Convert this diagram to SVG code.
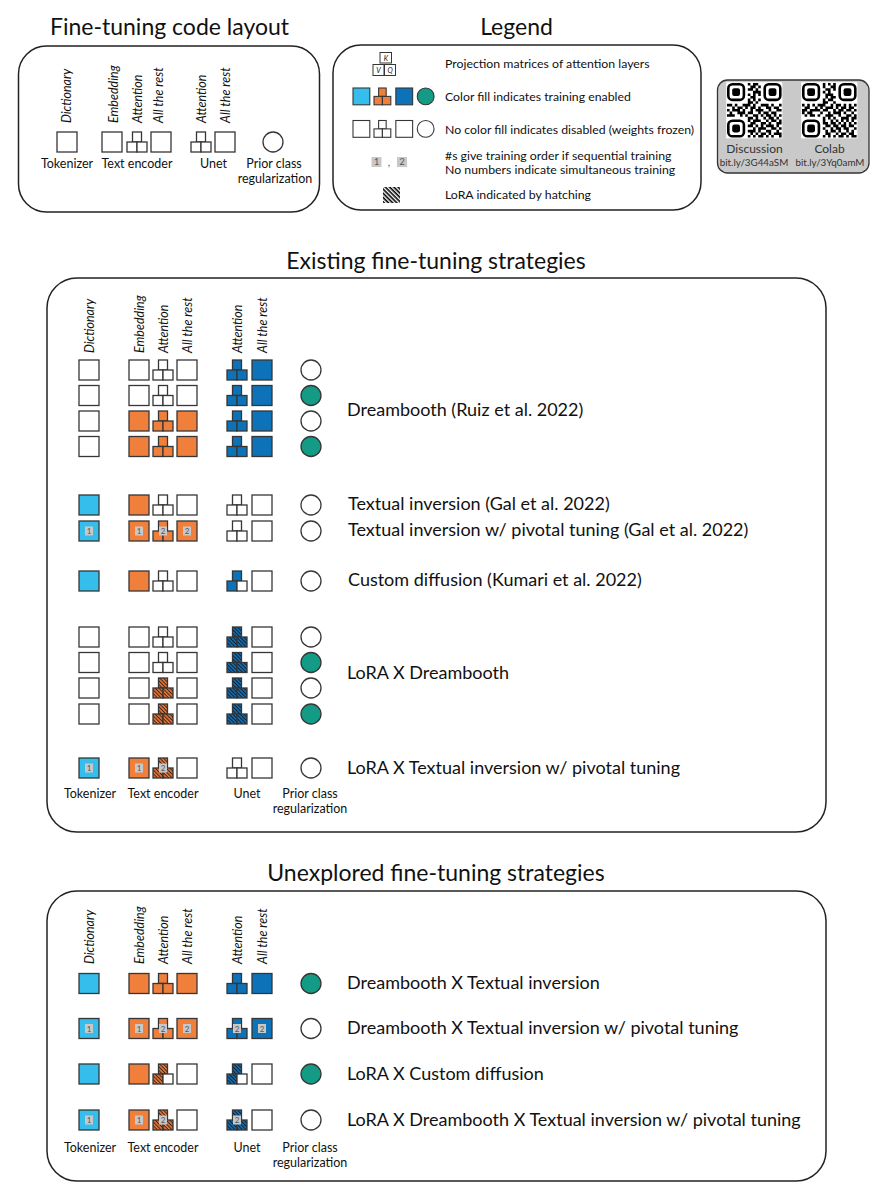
<svg xmlns="http://www.w3.org/2000/svg" xmlns:xlink="http://www.w3.org/1999/xlink" width="886" height="1200" viewBox="0 0 886 1200">
<style>
.s{stroke:#363636;stroke-width:1.3}
.w{fill:#fff}.lb{fill:#35bdec}.or{fill:#f07f3c}.db{fill:#0d72b8}.tl{fill:#139b86}
.ho{fill:url(#hO)}.hb{fill:url(#hB)}
.panel{fill:#fff;stroke:#222;stroke-width:1.5}
text{font-family:Lato,"Noto Sans",sans-serif;fill:#111}
.title{font-size:23px;text-anchor:middle}
.lab{font-size:18px}
.sm{font-size:12.5px;text-anchor:middle}
.lg{font-size:12.3px}
.rot{font-size:12.5px;font-style:italic}
.bg{fill:#c8c8c8}
.bt{font-size:8px;fill:#555;text-anchor:middle}
.qt{font-size:12px;fill:#333;text-anchor:middle}
.qu{font-size:9.8px;fill:#333;text-anchor:middle}
</style>
<defs>
<pattern id="hO" patternUnits="userSpaceOnUse" width="2.6" height="2.6" patternTransform="rotate(45)"><rect width="2.6" height="2.6" fill="#e9783a"/><rect width="2.6" height="1" fill="#3a2418"/></pattern>
<pattern id="hB" patternUnits="userSpaceOnUse" width="2.6" height="2.6" patternTransform="rotate(45)"><rect width="2.6" height="2.6" fill="#1a6fae"/><rect width="2.6" height="1" fill="#0b1e33"/></pattern>
<pattern id="hK" patternUnits="userSpaceOnUse" width="3" height="3" patternTransform="rotate(45)"><rect width="3" height="3" fill="#fff"/><rect width="3" height="1.6" fill="#000"/></pattern>
<rect id="sq" width="20" height="20"/>
<rect id="ak" x="5.5" width="9" height="10"/>
<rect id="av" y="10" width="10" height="10"/>
<rect id="aq" x="10" y="10" width="10" height="10"/>
<g id="att"><use href="#ak"/><use href="#av"/><use href="#aq"/></g>
<circle id="ci" r="10"/>
<path id="qrd" fill="#000" d="M8 0h1v1h-1z M10 0h2v1h-2z M9 1h2v1h-2z M12 1h1v1h-1z M8 2h2v1h-2z M11 2h1v1h-1z M10 3h3v1h-3z M8 4h1v1h-1z M10 4h1v1h-1z M12 4h1v1h-1z M9 5h2v1h-2z M8 6h1v1h-1z M10 6h1v1h-1z M12 6h1v1h-1z M8 7h2v1h-2z M11 7h1v1h-1z M0 8h2v1h-2z M3 8h1v1h-1z M6 8h3v1h-3z M10 8h1v1h-1z M13 8h3v1h-3z M17 8h1v1h-1z M20 8h1v1h-1z M2 9h1v1h-1z M4 9h2v1h-2z M7 9h1v1h-1z M9 9h2v1h-2z M12 9h1v1h-1z M15 9h2v1h-2z M18 9h2v1h-2z M0 10h1v1h-1z M2 10h3v1h-3z M6 10h1v1h-1z M9 10h1v1h-1z M11 10h3v1h-3z M16 10h1v1h-1z M19 10h2v1h-2z M1 11h1v1h-1z M4 11h3v1h-3z M8 11h2v1h-2z M12 11h1v1h-1z M14 11h2v1h-2z M17 11h2v1h-2z M0 12h3v1h-3z M5 12h1v1h-1z M7 12h1v1h-1z M10 12h2v1h-2z M13 12h1v1h-1z M15 12h2v1h-2z M18 12h1v1h-1z M20 12h1v1h-1z M8 13h2v1h-2z M11 13h1v1h-1z M14 13h1v1h-1z M16 13h2v1h-2z M19 13h1v1h-1z M8 14h1v1h-1z M10 14h3v1h-3z M15 14h1v1h-1z M17 14h2v1h-2z M20 14h1v1h-1z M9 15h2v1h-2z M13 15h2v1h-2z M16 15h1v1h-1z M19 15h2v1h-2z M8 16h2v1h-2z M11 16h1v1h-1z M13 16h1v1h-1z M15 16h3v1h-3z M19 16h1v1h-1z M10 17h1v1h-1z M12 17h3v1h-3z M17 17h2v1h-2z M20 17h1v1h-1z M8 18h3v1h-3z M12 18h1v1h-1z M15 18h2v1h-2z M19 18h1v1h-1z M9 19h1v1h-1z M11 19h1v1h-1z M13 19h2v1h-2z M16 19h1v1h-1z M18 19h3v1h-3z M8 20h1v1h-1z M10 20h1v1h-1z M12 20h2v1h-2z M15 20h1v1h-1z M17 20h1v1h-1z M20 20h1v1h-1z"/>
<g id="fnd"><rect x="0.5" y="0.5" width="6" height="6" rx="1.6" fill="none" stroke="#000" stroke-width="1"/><rect x="2" y="2" width="3" height="3" rx="0.8" fill="#000"/></g>
</defs>
<rect width="886" height="1200" fill="#fff"/>

<!-- Fine-tuning code layout -->
<g id="layout">
<text class="title" x="169.5" y="35">Fine-tuning code layout</text>
<rect class="panel" x="18.5" y="46" width="301" height="166" rx="28"/>
<text class="rot" transform="translate(71,123) rotate(-90)">Dictionary</text>
<text class="rot" transform="translate(118,123) rotate(-90)">Embedding</text>
<text class="rot" transform="translate(141.5,123) rotate(-90)">Attention</text>
<text class="rot" transform="translate(163,123) rotate(-90)">All the rest</text>
<text class="rot" transform="translate(206,123) rotate(-90)">Attention</text>
<text class="rot" transform="translate(230,123) rotate(-90)">All the rest</text>
<use href="#sq" x="57" y="132" class="s w"/>
<use href="#sq" x="102" y="132" class="s w"/>
<use href="#att" x="127" y="132" class="s w"/>
<use href="#sq" x="151" y="132" class="s w"/>
<use href="#att" x="191" y="132" class="s w"/>
<use href="#sq" x="215" y="132" class="s w"/>
<use href="#ci" x="273" y="142" class="s w"/>
<text class="sm" x="67" y="168">Tokenizer</text>
<text class="sm" x="137" y="168">Text encoder</text>
<text class="sm" x="213.5" y="168">Unet</text>
<text class="sm" x="274" y="168">Prior class</text>
<text class="sm" x="275" y="183">regularization</text>
</g>

<!-- Legend -->
<g id="legend">
<text class="title" x="516.5" y="35">Legend</text>
<rect class="panel" x="333" y="45" width="368" height="165" rx="28"/>
<g class="s" style="stroke-width:1">
<rect x="380" y="52.5" width="11.5" height="10.5" fill="#fff"/>
<rect x="373" y="64.5" width="11" height="11" fill="#fff"/>
<rect x="384.5" y="64.5" width="11" height="11" fill="#fff"/>
</g>
<text x="385.8" y="60.5" style="font-size:7px;font-style:italic;text-anchor:middle">K</text>
<text x="378.5" y="72.8" style="font-size:7px;font-style:italic;text-anchor:middle">V</text>
<text x="390" y="72.8" style="font-size:7px;font-style:italic;text-anchor:middle">Q</text>
<text class="lg" x="445" y="67.5">Projection matrices of attention layers</text>
<g transform="translate(353,88) scale(0.84)">
<use href="#sq" x="0" y="0" class="s lb"/>
<use href="#att" x="25" y="0" class="s or"/>
<use href="#sq" x="51" y="0" class="s db"/>
<use href="#ci" x="86.5" y="10" class="s tl"/>
</g>
<text class="lg" x="445" y="101">Color fill indicates training enabled</text>
<g transform="translate(353,120.5) scale(0.84)">
<use href="#sq" x="0" y="0" class="s w"/>
<use href="#att" x="25" y="0" class="s w"/>
<use href="#sq" x="51" y="0" class="s w"/>
<use href="#ci" x="86.5" y="10" class="s w"/>
</g>
<text class="lg" x="445" y="133.5">No color fill indicates disabled (weights frozen)</text>
<rect class="bg" x="371.5" y="157" width="10" height="10"/>
<text class="bt" x="376.5" y="165" style="font-size:9px">1</text>
<text x="389" y="166" style="font-size:11px;text-anchor:middle;fill:#555">,</text>
<rect class="bg" x="397" y="157" width="10" height="10"/>
<text class="bt" x="402" y="165" style="font-size:9px">2</text>
<text class="lg" x="445" y="159.5">#s give training order if sequential training</text>
<text class="lg" x="445" y="173.5">No numbers indicate simultaneous training</text>
<rect x="383" y="187" width="17" height="16" fill="url(#hK)"/>
<text class="lg" x="445" y="198.5">LoRA indicated by hatching</text>
</g>

<!-- QR codes -->
<g id="qr">
<rect x="717.5" y="80" width="151.5" height="93" rx="10" fill="#c9c9c9" stroke="#333" stroke-width="1.3"/>
<g transform="translate(727,83) scale(2.6)">
<rect x="-0.3" y="-0.3" width="21.6" height="21.6" fill="#fff"/>
<use href="#qrd"/><use href="#fnd"/><use href="#fnd" x="14"/><use href="#fnd" y="14"/>
</g>
<g transform="translate(802,83) scale(2.6)">
<rect x="-0.3" y="-0.3" width="21.6" height="21.6" fill="#fff"/>
<use href="#qrd" transform="matrix(0 1 1 0 0 0)"/><use href="#fnd"/><use href="#fnd" x="14"/><use href="#fnd" y="14"/>
</g>
<text class="qt" x="754.5" y="153">Discussion</text>
<text class="qu" x="754" y="166">bit.ly/3G44aSM</text>
<text class="qt" x="829.5" y="153">Colab</text>
<text class="qu" x="830" y="166">bit.ly/3Yq0amM</text>
</g>

<g id="connectors"/>

<!-- Existing fine-tuning strategies -->
<g id="existing">
<text class="title" x="436" y="269">Existing fine-tuning strategies</text>
<rect class="panel" x="47" y="278" width="779" height="554" rx="30"/>
<text class="rot" transform="translate(93.5,353) rotate(-90)">Dictionary</text>
<text class="rot" transform="translate(143.5,353) rotate(-90)">Embedding</text>
<text class="rot" transform="translate(167.5,353) rotate(-90)">Attention</text>
<text class="rot" transform="translate(192,353) rotate(-90)">All the rest</text>
<text class="rot" transform="translate(242,353) rotate(-90)">Attention</text>
<text class="rot" transform="translate(267,353) rotate(-90)">All the rest</text>
<text class="sm" x="90" y="798">Tokenizer</text>
<text class="sm" x="163" y="798">Text encoder</text>
<text class="sm" x="247" y="798">Unet</text>
<text class="sm" x="310" y="798">Prior class</text>
<text class="sm" x="310" y="813">regularization</text>
</g>

<g id="dreambooth">
<g id="db1">
<use href="#sq" x="79" y="360" class="s w"/><use href="#sq" x="129" y="360" class="s w"/><use href="#att" x="153" y="360" class="s w"/><use href="#sq" x="177" y="360" class="s w"/>
<use href="#att" x="227" y="360" class="s db"/><use href="#sq" x="252" y="360" class="s db"/><use href="#ci" x="311" y="370" class="s w"/>
</g>
<g id="db2">
<use href="#sq" x="79" y="385.5" class="s w"/><use href="#sq" x="129" y="385.5" class="s w"/><use href="#att" x="153" y="385.5" class="s w"/><use href="#sq" x="177" y="385.5" class="s w"/>
<use href="#att" x="227" y="385.5" class="s db"/><use href="#sq" x="252" y="385.5" class="s db"/><use href="#ci" x="311" y="395.5" class="s tl"/>
</g>
<g id="db3">
<use href="#sq" x="79" y="411" class="s w"/><use href="#sq" x="129" y="411" class="s or"/><use href="#att" x="153" y="411" class="s or"/><use href="#sq" x="177" y="411" class="s or"/>
<use href="#att" x="227" y="411" class="s db"/><use href="#sq" x="252" y="411" class="s db"/><use href="#ci" x="311" y="421" class="s w"/>
</g>
<g id="db4">
<use href="#sq" x="79" y="436.5" class="s w"/><use href="#sq" x="129" y="436.5" class="s or"/><use href="#att" x="153" y="436.5" class="s or"/><use href="#sq" x="177" y="436.5" class="s or"/>
<use href="#att" x="227" y="436.5" class="s db"/><use href="#sq" x="252" y="436.5" class="s db"/><use href="#ci" x="311" y="446.5" class="s tl"/>
</g>
<text class="lab" x="347" y="416">Dreambooth (Ruiz et al. 2022)</text>
</g>

<g id="ti">
<use href="#sq" x="79" y="495" class="s lb"/><use href="#sq" x="129" y="495" class="s or"/><use href="#att" x="153" y="495" class="s w"/><use href="#sq" x="177" y="495" class="s w"/>
<use href="#att" x="227" y="495" class="s w"/><use href="#sq" x="252" y="495" class="s w"/><use href="#ci" x="311" y="505" class="s w"/>
<text class="lab" x="348" y="510">Textual inversion (Gal et al. 2022)</text>
</g>

<g id="ti-pivotal">
<use href="#sq" x="79" y="521" class="s lb"/><use href="#sq" x="129" y="521" class="s or"/><use href="#att" x="153" y="521" class="s or"/><use href="#sq" x="177" y="521" class="s or"/>
<use href="#att" x="227" y="521" class="s w"/><use href="#sq" x="252" y="521" class="s w"/><use href="#ci" x="311" y="531" class="s w"/>
<rect class="bg" x="85" y="526.5" width="8" height="9"/><text class="bt" x="89" y="534">1</text>
<rect class="bg" x="135" y="526.5" width="8" height="9"/><text class="bt" x="139" y="534">1</text>
<rect class="bg" x="159" y="526.5" width="8" height="9"/><text class="bt" x="163" y="534">2</text>
<rect class="bg" x="183" y="526.5" width="8" height="9"/><text class="bt" x="187" y="534">2</text>
<text class="lab" x="348" y="536">Textual inversion w/ pivotal tuning (Gal et al. 2022)</text>
</g>

<g id="custom-diffusion">
<use href="#sq" x="79" y="571" class="s lb"/><use href="#sq" x="129" y="571" class="s or"/><use href="#att" x="153" y="571" class="s w"/><use href="#sq" x="177" y="571" class="s w"/>
<use href="#ak" x="227" y="571" class="s db"/><use href="#av" x="227" y="571" class="s db"/><use href="#aq" x="227" y="571" class="s w"/>
<use href="#sq" x="252" y="571" class="s w"/><use href="#ci" x="311" y="581" class="s w"/>
<text class="lab" x="348" y="586">Custom diffusion (Kumari et al. 2022)</text>
</g>

<g id="lora-dreambooth">
<g id="ldb1">
<use href="#sq" x="79" y="627" class="s w"/><use href="#sq" x="129" y="627" class="s w"/><use href="#att" x="153" y="627" class="s w"/><use href="#sq" x="177" y="627" class="s w"/>
<use href="#att" x="227" y="627" class="s hb"/><use href="#sq" x="252" y="627" class="s w"/><use href="#ci" x="311" y="637" class="s w"/>
</g>
<g id="ldb2">
<use href="#sq" x="79" y="652.5" class="s w"/><use href="#sq" x="129" y="652.5" class="s w"/><use href="#att" x="153" y="652.5" class="s w"/><use href="#sq" x="177" y="652.5" class="s w"/>
<use href="#att" x="227" y="652.5" class="s hb"/><use href="#sq" x="252" y="652.5" class="s w"/><use href="#ci" x="311" y="662.5" class="s tl"/>
</g>
<g id="ldb3">
<use href="#sq" x="79" y="678" class="s w"/><use href="#sq" x="129" y="678" class="s w"/><use href="#att" x="153" y="678" class="s ho"/><use href="#sq" x="177" y="678" class="s w"/>
<use href="#att" x="227" y="678" class="s hb"/><use href="#sq" x="252" y="678" class="s w"/><use href="#ci" x="311" y="688" class="s w"/>
</g>
<g id="ldb4">
<use href="#sq" x="79" y="704" class="s w"/><use href="#sq" x="129" y="704" class="s w"/><use href="#att" x="153" y="704" class="s ho"/><use href="#sq" x="177" y="704" class="s w"/>
<use href="#att" x="227" y="704" class="s hb"/><use href="#sq" x="252" y="704" class="s w"/><use href="#ci" x="311" y="714" class="s tl"/>
</g>
<text class="lab" x="347" y="679">LoRA X Dreambooth</text>
</g>

<g id="lora-ti-pivotal">
<use href="#sq" x="79" y="758" class="s lb"/><use href="#sq" x="129" y="758" class="s or"/><use href="#att" x="153" y="758" class="s ho"/><use href="#sq" x="177" y="758" class="s w"/>
<use href="#att" x="227" y="758" class="s w"/><use href="#sq" x="252" y="758" class="s w"/><use href="#ci" x="311" y="768" class="s w"/>
<rect class="bg" x="85" y="763.5" width="8" height="9"/><text class="bt" x="89" y="771">1</text>
<rect class="bg" x="135" y="763.5" width="8" height="9"/><text class="bt" x="139" y="771">1</text>
<rect class="bg" x="159" y="763.5" width="8" height="9"/><text class="bt" x="163" y="771">2</text>
<text class="lab" x="347" y="774">LoRA X Textual inversion w/ pivotal tuning</text>
</g>

<!-- Unexplored -->
<g id="unexplored">
<text class="title" x="436" y="881">Unexplored fine-tuning strategies</text>
<rect class="panel" x="47" y="891" width="779" height="290" rx="30"/>
<text class="rot" transform="translate(93.5,964) rotate(-90)">Dictionary</text>
<text class="rot" transform="translate(143.5,964) rotate(-90)">Embedding</text>
<text class="rot" transform="translate(167.5,964) rotate(-90)">Attention</text>
<text class="rot" transform="translate(192,964) rotate(-90)">All the rest</text>
<text class="rot" transform="translate(242,964) rotate(-90)">Attention</text>
<text class="rot" transform="translate(267,964) rotate(-90)">All the rest</text>
<text class="sm" x="90" y="1151.5">Tokenizer</text>
<text class="sm" x="163" y="1151.5">Text encoder</text>
<text class="sm" x="247" y="1151.5">Unet</text>
<text class="sm" x="310" y="1151.5">Prior class</text>
<text class="sm" x="310" y="1166.5">regularization</text>
</g>

<g id="db-ti">
<use href="#sq" x="79" y="973.5" class="s lb"/><use href="#sq" x="129" y="973.5" class="s or"/><use href="#att" x="153" y="973.5" class="s or"/><use href="#sq" x="177" y="973.5" class="s or"/>
<use href="#att" x="227" y="973.5" class="s db"/><use href="#sq" x="252" y="973.5" class="s db"/><use href="#ci" x="311" y="983.5" class="s tl"/>
<text class="lab" x="347" y="989">Dreambooth X Textual inversion</text>
</g>

<g id="db-ti-pivotal">
<use href="#sq" x="79" y="1018.5" class="s lb"/><use href="#sq" x="129" y="1018.5" class="s or"/><use href="#att" x="153" y="1018.5" class="s or"/><use href="#sq" x="177" y="1018.5" class="s or"/>
<use href="#att" x="227" y="1018.5" class="s db"/><use href="#sq" x="252" y="1018.5" class="s db"/><use href="#ci" x="311" y="1028.5" class="s w"/>
<rect class="bg" x="85" y="1024" width="8" height="9"/><text class="bt" x="89" y="1031.5">1</text>
<rect class="bg" x="135" y="1024" width="8" height="9"/><text class="bt" x="139" y="1031.5">1</text>
<rect class="bg" x="159" y="1024" width="8" height="9"/><text class="bt" x="163" y="1031.5">2</text>
<rect class="bg" x="183" y="1024" width="8" height="9"/><text class="bt" x="187" y="1031.5">2</text>
<rect class="bg" x="233" y="1024" width="8" height="9"/><text class="bt" x="237" y="1031.5">2</text>
<rect class="bg" x="258" y="1024" width="8" height="9"/><text class="bt" x="262" y="1031.5">2</text>
<text class="lab" x="347" y="1034">Dreambooth X Textual inversion w/ pivotal tuning</text>
</g>

<g id="lora-custom">
<use href="#sq" x="79" y="1064" class="s lb"/><use href="#sq" x="129" y="1064" class="s or"/>
<use href="#ak" x="153" y="1064" class="s ho"/><use href="#av" x="153" y="1064" class="s ho"/><use href="#aq" x="153" y="1064" class="s w"/>
<use href="#sq" x="177" y="1064" class="s w"/>
<use href="#ak" x="227" y="1064" class="s hb"/><use href="#av" x="227" y="1064" class="s hb"/><use href="#aq" x="227" y="1064" class="s w"/>
<use href="#sq" x="252" y="1064" class="s w"/><use href="#ci" x="311" y="1074" class="s tl"/>
<text class="lab" x="347" y="1080">LoRA X Custom diffusion</text>
</g>

<g id="lora-db-ti-pivotal">
<use href="#sq" x="79" y="1110" class="s lb"/><use href="#sq" x="129" y="1110" class="s or"/><use href="#att" x="153" y="1110" class="s ho"/><use href="#sq" x="177" y="1110" class="s w"/>
<use href="#att" x="227" y="1110" class="s hb"/><use href="#sq" x="252" y="1110" class="s w"/><use href="#ci" x="311" y="1120" class="s w"/>
<rect class="bg" x="85" y="1115.5" width="8" height="9"/><text class="bt" x="89" y="1123">1</text>
<rect class="bg" x="135" y="1115.5" width="8" height="9"/><text class="bt" x="139" y="1123">1</text>
<rect class="bg" x="159" y="1115.5" width="8" height="9"/><text class="bt" x="163" y="1123">2</text>
<rect class="bg" x="233" y="1115.5" width="8" height="9"/><text class="bt" x="237" y="1123">2</text>
<text class="lab" x="347" y="1126">LoRA X Dreambooth X Textual inversion w/ pivotal tuning</text>
</g>
</svg>
